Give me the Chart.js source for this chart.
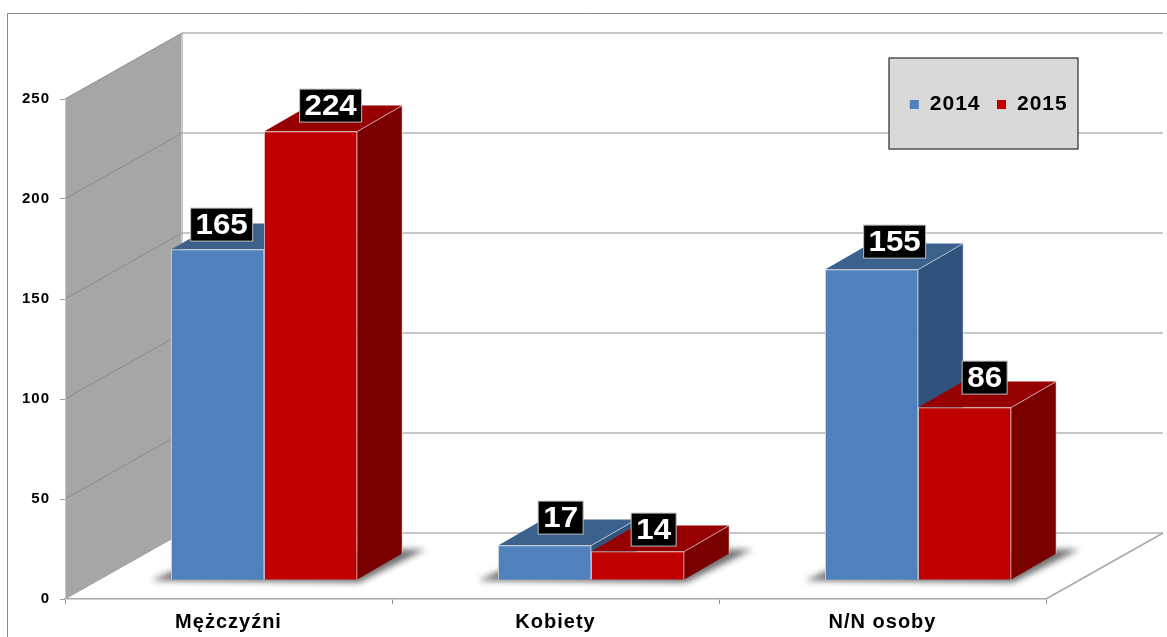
<!DOCTYPE html>
<html>
<head>
<meta charset="utf-8">
<script src="https://cdn.jsdelivr.net/npm/chart.js@4"></script>
<style>
  html, body { margin: 0; padding: 0; background: #fff; }
  canvas { display: block; }
</style>
</head>
<body>
<canvas id="chart" width="1167" height="637"></canvas>
<script>
const categories = ['Mężczyźni', 'Kobiety', 'N/N osoby'];
const seriesNames = ['2014', '2015'];
const values2014 = [165, 17, 155];
const values2015 = [224, 14, 86];
const yTicks = [0, 50, 100, 150, 200, 250];

const fontName = '"Liberation Sans", Arial, sans-serif';

// colours of each series: front, top, side
const faces = [
    { front: '#4f81bd', top: '#3b618c', side: '#31527a' },
    { front: '#c00000', top: '#960000', side: '#7a0000' }
];

// how far the 3d box goes back
const wallDepth = { dx: 117, dy: -66 };
const barDepth = { dx: 45, dy: -26 };

// small hand shifts of the value labels, from the top centre of each bar
const labelShift = [
    [[4, -25], [16, -28], [23, -28]],
    [[20, -26], [16, -22], [20, -30]]
];

function poly(ctx, pts, fill, stroke) {
    ctx.beginPath();
    pts.forEach((p, i) => i ? ctx.lineTo(p[0], p[1]) : ctx.moveTo(p[0], p[1]));
    ctx.closePath();
    if (fill) { ctx.fillStyle = fill; ctx.fill(); }
    if (stroke) { ctx.strokeStyle = stroke; ctx.lineWidth = 1; ctx.stroke(); }
}

function line(ctx, x1, y1, x2, y2, color, width) {
    ctx.beginPath();
    ctx.moveTo(x1, y1);
    ctx.lineTo(x2, y2);
    ctx.strokeStyle = color;
    ctx.lineWidth = width || 1;
    ctx.stroke();
}

const box3d = {
    id: 'box3d',
    beforeUpdate(chart) {
        chart.ctx.letterSpacing = '1px';
    },
    afterLayout(chart) {
        // legend sits inside its grey box, not above the plot
        // kept wider than the box, or the second item wraps away
        const lg = chart.legend;
        lg.left = 874;
        lg.right = 1103;
        lg.width = 229;
        lg.top = 78;
        lg.bottom = lg.top + lg.height;
    },
    beforeDraw(chart) {
        const ctx = chart.ctx;
        const y = chart.scales.y;
        const x = chart.scales.x;
        const y0 = y.getPixelForValue(0);
        const yTop = y.getPixelForValue(250);
        const { dx, dy } = wallDepth;
        ctx.save();
        ctx.letterSpacing = '0px';

        // outer frame
        line(ctx, 7.5, 637, 7.5, 13.5, '#8a8a8a');
        line(ctx, 7.5, 13.5, 1167, 13.5, '#8a8a8a');

        // left wall
        poly(ctx, [[x.left, yTop], [x.left + dx, yTop + dy], [x.left + dx, y0 + dy], [x.left, y0]], '#a6a6a6');
        line(ctx, x.left + dx, yTop + dy, x.left + dx, y0 + dy, '#c8c8c8', 2);

        // grid on the back and side walls
        y.ticks.forEach(t => {
            const py = y.getPixelForValue(t.value);
            if (t.value > 0) line(ctx, x.left, py, x.left + dx, py + dy, '#8c8c8c');
            line(ctx, x.left + dx, py + dy, x.right + dx, py + dy, '#b4b4b4', 1.5);
        });

        // floor edge
        line(ctx, x.left, y0, x.left + dx, y0 + dy, '#a0a0a0');
        line(ctx, x.right, y0, x.right + dx, y0 + dy, '#a8a8a8', 1.5);

        // legend box
        ctx.fillStyle = '#d9d9d9';
        ctx.fillRect(889, 58, 189, 91);
        ctx.strokeStyle = '#2a2a2a';
        ctx.lineWidth = 1.2;
        ctx.strokeRect(889, 58, 189, 91);
        ctx.restore();
        ctx.letterSpacing = '1px';
    },
    beforeDatasetsDraw(chart) {
        const ctx = chart.ctx;
        const metas = [chart.getDatasetMeta(0), chart.getDatasetMeta(1)];
        const { dx, dy } = barDepth;
        ctx.save();

        // blurred floor shadow under each group
        categories.forEach((c, i) => {
            const first = metas[0].data[i];
            const last = metas[1].data[i];
            const l = first.x - first.width / 2;
            const r = last.x + last.width / 2;
            const b = first.base;
            ctx.save();
            ctx.filter = 'blur(3px)';
            poly(ctx, [[l - 20, b + 1], [r + 2, b + 3], [r + 68, b - 30], [r + 40, b - 30], [l + 5, b - 10]], '#707070');
            ctx.restore();
        });

        // top and side of each bar, the fronts come from the bar elements
        categories.forEach((c, i) => {
            metas.forEach((meta, s) => {
                const bar = meta.data[i];
                const l = bar.x - bar.width / 2;
                const r = bar.x + bar.width / 2;
                const edge = 'rgba(255,255,255,0.55)';
                poly(ctx, [[l, bar.y], [l + dx, bar.y + dy], [r + dx, bar.y + dy], [r, bar.y]], faces[s].top);
                poly(ctx, [[r, bar.y], [r + dx, bar.y + dy], [r + dx, bar.base + dy], [r, bar.base]], faces[s].side);
                line(ctx, r, bar.y, r + dx, bar.y + dy, edge);
                line(ctx, r + dx, bar.y + dy, r + dx, bar.base + dy, edge);
            });
        });
        ctx.restore();
    },
    afterDatasetsDraw(chart) {
        const ctx = chart.ctx;
        ctx.save();
        ctx.letterSpacing = '0px';
        ctx.font = 'bold 29px ' + fontName;
        ctx.textAlign = 'center';
        ctx.textBaseline = 'middle';
        [values2014, values2015].forEach((vals, s) => {
            const meta = chart.getDatasetMeta(s);
            vals.forEach((v, i) => {
                const bar = meta.data[i];
                const cx = bar.x + labelShift[s][i][0];
                const cy = bar.y + labelShift[s][i][1];
                const txt = String(v);
                const w = txt.length === 3 ? 62 : 45;
                ctx.fillStyle = '#000';
                ctx.fillRect(cx - w / 2, cy - 16.5, w, 33);
                ctx.strokeStyle = '#bdbdbd';
                ctx.lineWidth = 1;
                ctx.strokeRect(cx - w / 2, cy - 16.5, w, 33);
                ctx.save();
                ctx.translate(cx, cy + 1);
                ctx.scale(1.08, 1);
                ctx.fillStyle = '#fff';
                ctx.fillText(txt, 0, 0);
                ctx.restore();
            });
        });
        ctx.restore();
    }
};

new Chart(document.getElementById('chart'), {
    type: 'bar',
    data: {
        labels: categories,
        datasets: [
            {
                label: seriesNames[0],
                data: values2014.map((v, i) => ({ x: i, y: v })),
                backgroundColor: faces[0].front,
                xAxisID: 'xBar',
                yAxisID: 'yBar'
            },
            {
                label: seriesNames[1],
                data: values2015.map((v, i) => ({ x: i, y: v })),
                backgroundColor: faces[1].front,
                xAxisID: 'xBar',
                yAxisID: 'yBar'
            }
        ]
    },
    options: {
        responsive: false,
        animation: false,
        events: [],
        layout: { padding: { top: 52, right: 121, left: 0, bottom: 0 } },
        datasets: {
            bar: {
                barThickness: 93,
                borderWidth: 1,
                borderColor: 'rgba(225,225,225,0.85)'
            }
        },
        plugins: {
            tooltip: { enabled: false },
            legend: {
                display: true,
                position: 'top',
                align: 'center',
                labels: {
                    boxWidth: 10,
                    boxHeight: 10,
                    padding: 16,
                    color: '#000',
                    font: { family: fontName, size: 21, weight: 'bold' }
                }
            }
        },
        scales: {
            x: {
                type: 'category',
                position: 'bottom',
                offset: true,
                grid: { offset: true, drawOnChartArea: false, color: '#8c8c8c', tickLength: 5 },
                border: { color: '#a8a8a8', width: 1.5 },
                ticks: {
                    color: '#000',
                    padding: 6,
                    maxRotation: 0,
                    font: { family: fontName, size: 20, weight: 'bold' }
                },
                afterFit(scale) { scale.height = 38; }
            },
            y: {
                type: 'linear',
                position: 'left',
                min: 0,
                max: 250,
                afterBuildTicks(scale) { scale.ticks = yTicks.map(v => ({ value: v })); },
                grid: { drawOnChartArea: false, color: '#a0a0a0', tickLength: 5 },
                border: { color: '#c8c8c8' },
                ticks: {
                    color: '#000',
                    padding: 10,
                    font: { family: fontName, size: 15, weight: 'bold' }
                },
                afterFit(scale) { scale.width = 65; }
            },
            // same plot area, shifted onto the floor of the 3d box
            xBar: { type: 'linear', axis: 'x', position: 'bottom', display: false, offset: false, min: -0.609, max: 2.391 },
            yBar: { type: 'linear', axis: 'y', position: 'left', display: false, min: -9.7, max: 240.3 }
        }
    },
    plugins: [box3d]
});
</script>
</body>
</html>
